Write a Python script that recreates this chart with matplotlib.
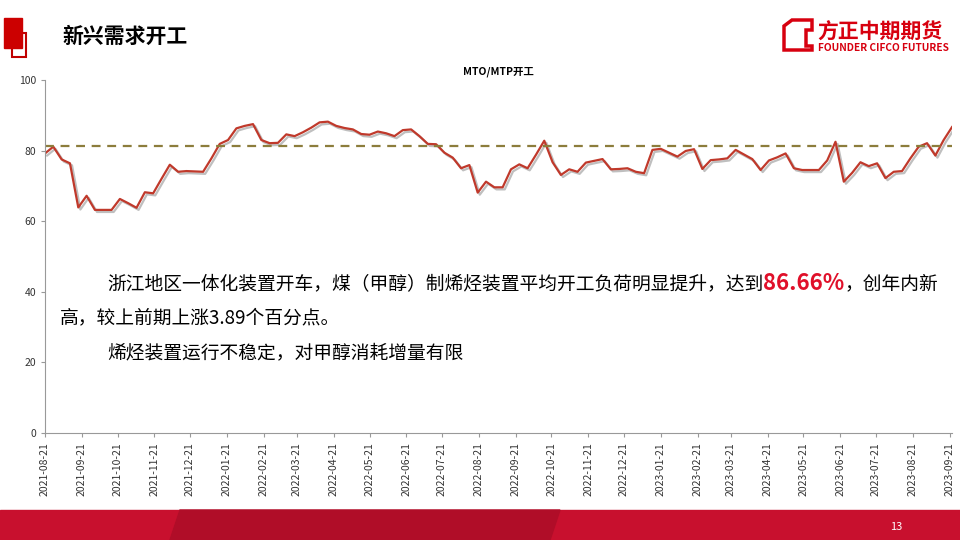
import numpy as np
import pandas as pd
import matplotlib
matplotlib.use('Agg')
import matplotlib.pyplot as plt
import matplotlib.patches as mpatches
import matplotlib.patheffects as pe

plt.rcParams['font.family'] = ['Noto Sans CJK SC', 'DejaVu Sans']

# weekly MTO/MTP operating rate (%)
mto_rate = [79.2, 81.1, 77.5, 76.4, 63.9, 67.2, 63.2, 63.2, 63.2, 66.3,
            65.1, 63.8, 68.2, 67.9, 72.0, 76.0, 74.0, 74.2, 74.1, 74.0,
            77.8, 81.9, 83.0, 86.3, 87.0, 87.5, 83.0, 82.1, 82.2, 84.6,
            84.1, 85.2, 86.5, 88.0, 88.2, 87.0, 86.4, 86.0, 84.7, 84.5,
            85.4, 84.9, 84.1, 85.8, 86.0, 84.1, 81.9, 81.8, 79.4, 78.0,
            75.0, 75.9, 68.1, 71.2, 69.6, 69.6, 74.7, 76.1, 75.0, 78.8,
            82.8, 76.7, 73.1, 74.7, 74.0, 76.6, 77.1, 77.6, 74.7, 74.8,
            75.0, 74.0, 73.6, 80.2, 80.5, 79.4, 78.3, 79.9, 80.4, 74.8,
            77.3, 77.5, 77.8, 80.2, 78.9, 77.6, 74.5, 77.2, 78.1, 79.2,
            75.0, 74.5, 74.5, 74.5, 77.2, 82.5, 71.2, 73.7, 76.7, 75.6,
            76.4, 72.2, 74.0, 74.2, 77.8, 81.1, 82.1, 78.6, 83.0, 86.66]
avg_level = 81.3
start_date = '2021-08-21'
tick_labels = [pd.Timestamp(2021, 8, 21) + pd.DateOffset(months=i) for i in range(26)]

dates = pd.date_range(start_date, periods=len(mto_rate), freq='7D')

fig = plt.figure(figsize=(9.6, 5.4), dpi=100)
W, H = 960, 540

def fx(x): return x / W
def fy(y): return 1 - y / H

# header
fig.patches.append(mpatches.Rectangle((fx(12), fy(57)), 14 / W, 24 / H, fill=False,
                                      ec='#c00000', lw=1.5, transform=fig.transFigure))
fig.patches.append(mpatches.Rectangle((fx(4), fy(48)), 18 / W, 30 / H, color='#cc0000',
                                      transform=fig.transFigure))
fig.text(fx(62), fy(36), '新兴需求开工', fontsize=15, fontweight='bold', va='center')
fig.patches.append(mpatches.Polygon([(fx(784), fy(26)), (fx(792), fy(20)), (fx(812), fy(20)),
                                     (fx(812), fy(30)), (fx(806), fy(30)), (fx(806), fy(46)),
                                     (fx(812), fy(46)), (fx(812), fy(50)), (fx(784), fy(50))],
                                    fill=False, ec='#d7000f', lw=2.5, transform=fig.transFigure))
fig.text(fx(817), fy(32), '方正中期期货', fontsize=15, fontweight='bold', color='#d7000f', va='center')
fig.text(fx(818), fy(48), 'FOUNDER CIFCO FUTURES', fontsize=7.3, fontweight='bold', color='#d7000f', va='center')

# footer band
fig.patches.append(mpatches.Rectangle((0, 0), 1, 30 / H, color='#c8102e', transform=fig.transFigure))
fig.patches.append(mpatches.Polygon([(fx(170), 0), (fx(180), fy(510)), (fx(560), fy(510)), (fx(550), 0)],
                                    color='#b00d28', transform=fig.transFigure))
fig.text(fx(896), fy(527), '13', fontsize=8, color='white', va='center', ha='center')

ax = fig.add_axes([fx(45), fy(433), (952 - 45) / W, (433 - 80) / H])
ax.plot(dates, mto_rate, color='#c0392b', lw=1.6,
        path_effects=[pe.SimpleLineShadow(offset=(1.5, -1.5), alpha=0.25), pe.Normal()])
ax.axhline(avg_level, color='#8c7d3c', lw=1.6, ls=(0, (4, 3)))
ax.set_ylim(0, 100)
ax.set_yticks(range(0, 101, 20))
ax.set_xlim(pd.Timestamp(start_date), max(dates[-1], tick_labels[-1]))
ax.set_xticks(tick_labels)
ax.set_xticklabels([d.strftime('%Y-%m-%d') for d in tick_labels], rotation=90, fontsize=7.5, color='#333333')
ax.tick_params(axis='y', labelsize=7.5, length=3, color='#999999', labelcolor='#333333')
ax.tick_params(axis='x', length=3, color='#999999')
for s in ['top', 'right']:
    ax.spines[s].set_visible(False)
for s in ['left', 'bottom']:
    ax.spines[s].set_color('#999999')
ax.set_title('MTO/MTP开工', fontsize=7.5, fontweight='bold', pad=4)

# annotation text, chained pieces on line 1
fs = 13.5
fig.canvas.draw()
r = fig.canvas.get_renderer()
x0 = 107
for txt, kw in [('浙江地区一体化装置开车，煤（甲醇）制烯烃装置平均开工负荷明显提升，达到', {}),
                ('86.66%', dict(fontsize=16, fontweight='bold', color='#e0102a')),
                ('，创年内新', {})]:
    t = fig.text(fx(x0), fy(284), txt, va='center', **({'fontsize': fs} | kw))
    x0 += t.get_window_extent(r).width
fig.text(fx(60), fy(318), '高，较上前期上涨3.89个百分点。', fontsize=fs, va='center')
fig.text(fx(107), fy(353), '烯烃装置运行不稳定，对甲醇消耗增量有限', fontsize=fs, va='center')

fig.savefig('out.png', dpi=100)
